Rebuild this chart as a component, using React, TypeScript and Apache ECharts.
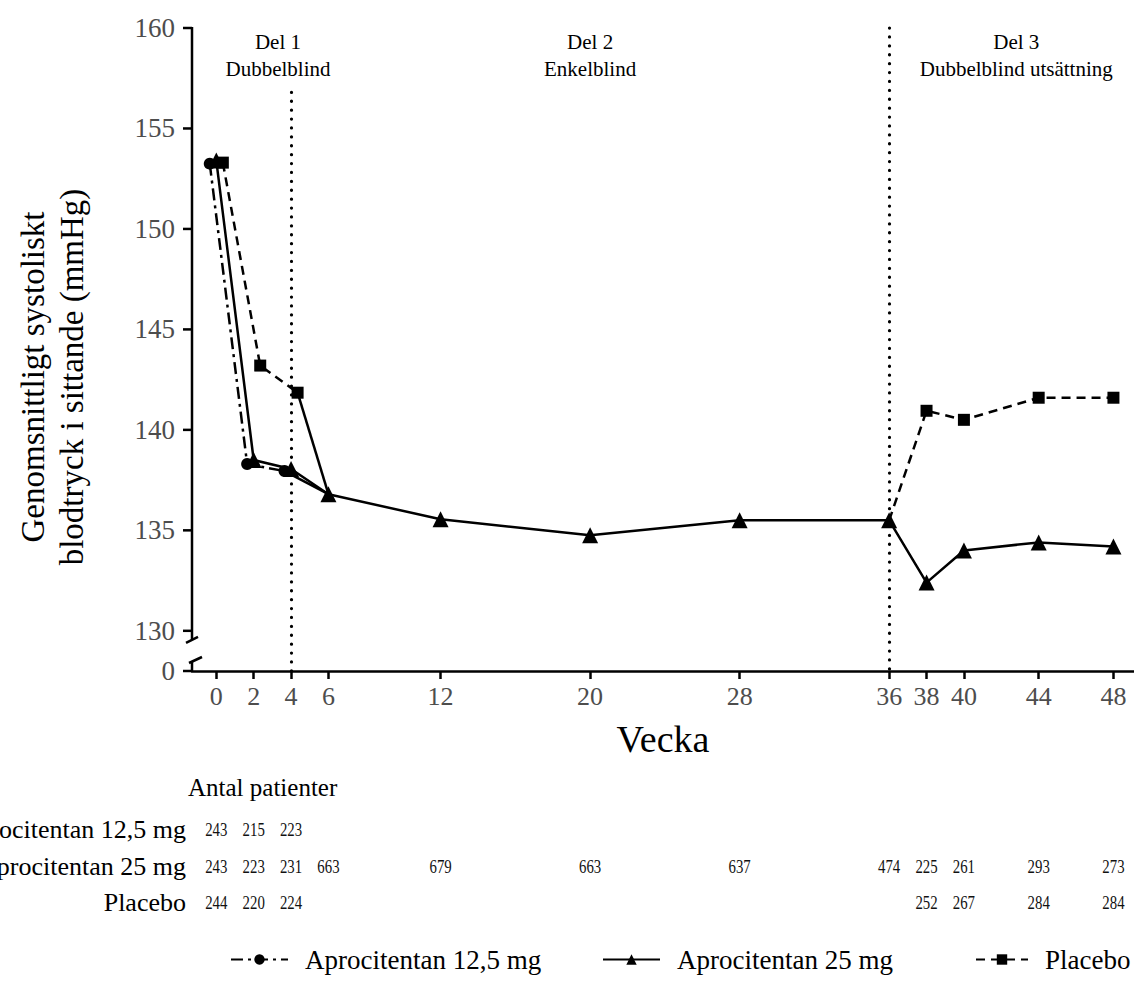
import React, { useEffect, useRef } from "react";
import * as echarts from "echarts";

// ---------- data ----------
const tickWeeks = [0, 2, 4, 6, 12, 20, 28, 36, 38, 40, 44, 48];
const yTickValues = [128, 130, 135, 140, 145, 150, 155, 160]; // 128 = broken-axis "0"
const seriesNames = ["Aprocitentan 12,5 mg", "Aprocitentan 25 mg", "Placebo"];

const weeks125 = [0, 2, 4];
const bp125 = [153.25, 138.3, 137.95];

const weeks25 = [0, 2, 4, 6, 12, 20, 28, 36, 38, 40, 44, 48];
const bp25 = [153.4, 138.5, 138.05, 136.8, 135.55, 134.75, 135.5, 135.5, 132.4, 134.0, 134.4, 134.2];

const weeksPlacebo1 = [0, 2, 4];
const bpPlacebo1 = [153.3, 143.2, 141.85];
const weeksPlacebo3 = [36, 38, 40, 44, 48];
const bpPlacebo3 = [135.5, 140.95, 140.5, 141.6, 141.6];

const partDividers = [4, 36];
const partTitles = ["Del 1\nDubbelblind", "Del 2\nEnkelblind", "Del 3\nDubbelblind utsättning"];

const nWeeks125 = [0, 2, 4];
const n125 = [243, 215, 223];
const nWeeks25 = [0, 2, 4, 6, 12, 20, 28, 36, 38, 40, 44, 48];
const n25 = [243, 223, 231, 663, 679, 663, 637, 474, 225, 261, 293, 273];
const nWeeksPlacebo = [0, 2, 4, 38, 40, 44, 48];
const nPlacebo = [244, 220, 224, 252, 267, 284, 284];

// ---------- style ----------
const FONT = "'Liberation Serif', 'Times New Roman', serif";
const BLACK = "#000";
const GREY = "#4d4d4d";
const DODGE = 0.35;

export default function App() {
  const ref = useRef<HTMLDivElement>(null);

  useEffect(() => {
    if (!ref.current) return;
    const chart = echarts.init(ref.current, undefined, { renderer: "svg" });

    const legendText = { fontFamily: FONT, fontSize: 27, color: BLACK, padding: [0, 0, 0, 12] };
    const legendBase = { top: 941, itemWidth: 57, itemHeight: 13, textStyle: legendText };

    const option: any = {
      animation: false,
      backgroundColor: "#fff",
      grid: { left: 192, right: 0, top: 28, bottom: 310, containLabel: false },
      xAxis: {
        type: "value",
        min: -1.3,
        max: 49.1,
        name: "Vecka",
        nameLocation: "middle",
        nameGap: 49,
        nameTextStyle: { fontFamily: FONT, fontSize: 38, color: BLACK },
        splitLine: { show: false },
        axisLine: { show: true, onZero: false, lineStyle: { color: BLACK, width: 2.5 } },
        axisTick: { show: true, customValues: tickWeeks, length: 8, lineStyle: { color: BLACK, width: 2.5 } },
        axisLabel: {
          customValues: tickWeeks,
          margin: 12,
          fontFamily: FONT,
          fontSize: 26,
          color: GREY,
        },
      },
      yAxis: {
        type: "value",
        min: 128,
        max: 160,
        splitLine: { show: false },
        axisLine: { show: false, onZero: false },
        axisTick: { show: false },
        axisLabel: {
          customValues: yTickValues,
          margin: 17,
          fontFamily: FONT,
          fontSize: 27,
          color: GREY,
          formatter: (v: number) => (v === 128 ? "0" : String(v)),
        },
      },
      legend: [
        { ...legendBase, left: 225, data: [seriesNames[0]] },
        { ...legendBase, left: 597, data: [seriesNames[1]] },
        { ...legendBase, left: 970, itemWidth: 52, data: [seriesNames[2]] },
      ],
      series: [
        {
          name: seriesNames[0],
          type: "line",
          z: 3,
          data: weeks125.map((w, i) => [w - DODGE, bp125[i]]),
          symbol: "circle",
          symbolSize: 12,
          itemStyle: { color: BLACK },
          lineStyle: { color: BLACK, width: 2.5, type: [12, 5, 3, 5] },
        },
        {
          name: "t125",
          type: "line",
          z: 3,
          data: [
            [weeks125[2] - DODGE, bp125[2]],
            [weeks25[3], bp25[3]],
          ],
          symbol: "none",
          lineStyle: { color: BLACK, width: 2.5 },
        },
        {
          name: seriesNames[2],
          type: "line",
          z: 3,
          data: weeksPlacebo1.map((w, i) => [w + DODGE, bpPlacebo1[i]]),
          symbol: "rect",
          symbolSize: 12,
          itemStyle: { color: BLACK },
          lineStyle: { color: BLACK, width: 2.5, type: [9, 6] },
        },
        {
          name: "tPlacebo",
          type: "line",
          z: 3,
          data: [
            [weeksPlacebo1[2] + DODGE, bpPlacebo1[2]],
            [weeks25[3], bp25[3]],
          ],
          symbol: "none",
          lineStyle: { color: BLACK, width: 2.5 },
        },
        {
          name: seriesNames[2],
          type: "line",
          z: 3,
          data: weeksPlacebo3.map((w, i) => ({
            value: [w, bpPlacebo3[i]],
            symbol: i === 0 ? "none" : "rect",
          })),
          symbol: "rect",
          symbolSize: 12,
          itemStyle: { color: BLACK },
          lineStyle: { color: BLACK, width: 2.5, type: [9, 6] },
        },
        {
          name: seriesNames[1],
          type: "line",
          z: 4,
          data: weeks25.map((w, i) => [w, bp25[i]]),
          symbol: "triangle",
          symbolSize: 16,
          itemStyle: { color: BLACK },
          lineStyle: { color: BLACK, width: 2.5 },
          markLine: {
            silent: true,
            symbol: "none",
            label: { show: false },
            z: 1,
            lineStyle: { color: BLACK, width: 3.2, type: [0.1, 8.8], cap: "round" },
            data: [
              [{ coord: [partDividers[0], 156.8] }, { coord: [partDividers[0], 128] }],
              [{ coord: [partDividers[1], 160] }, { coord: [partDividers[1], 128] }],
            ],
          },
        },
      ],
    };

    chart.setOption(option);

    const px = (w: number) => chart.convertToPixel({ xAxisIndex: 0 }, w) as number;
    const py = (v: number) => chart.convertToPixel({ yAxisIndex: 0 }, v) as number;
    const axisX = px(-1.3);
    const y160 = py(160);
    const y130 = py(130);
    const y0 = py(128);

    const graphics: any[] = [];
    const seg = (x1: number, y1: number, x2: number, y2: number) => ({
      type: "line",
      silent: true,
      shape: { x1, y1, x2, y2 },
      style: { stroke: BLACK, lineWidth: 2.5 },
    });
    // broken y axis with its ticks
    graphics.push(seg(axisX, y160 - 1, axisX, y130 + 9));
    graphics.push(seg(axisX, y0 - 9, axisX, y0));
    graphics.push(seg(axisX - 6, y130 + 12, axisX + 6, y130 + 6));
    graphics.push(seg(axisX - 3, y0 - 8, axisX + 10, y0 - 14));
    yTickValues.forEach((v) => {
      const y = py(v);
      graphics.push(seg(axisX - 9, y, axisX, y));
    });

    // part titles
    const titleWeeks = [3.3, 20, 42.8];
    partTitles.forEach((t, i) => {
      graphics.push({
        type: "text",
        silent: true,
        x: px(titleWeeks[i]),
        y: 55,
        style: {
          text: t,
          fontFamily: FONT,
          fontSize: 21,
          lineHeight: 27,
          fill: BLACK,
          align: "center",
          verticalAlign: "middle",
        },
      });
    });

    // y axis title
    graphics.push({
      type: "text",
      silent: true,
      x: 52,
      y: 377,
      rotation: Math.PI / 2,
      style: {
        text: "Genomsnittligt systoliskt\nblodtryck i sittande (mmHg)",
        fontFamily: FONT,
        fontSize: 33,
        lineHeight: 39,
        fill: BLACK,
        align: "center",
        verticalAlign: "middle",
      },
    });

    // patient-number table
    graphics.push({
      type: "text",
      silent: true,
      x: 188,
      y: 787,
      style: { text: "Antal patienter", fontFamily: FONT, fontSize: 25, fill: BLACK, align: "left", verticalAlign: "middle" },
    });
    const rowY = [829, 866, 902];
    const rows = [
      { weeks: nWeeks125, counts: n125 },
      { weeks: nWeeks25, counts: n25 },
      { weeks: nWeeksPlacebo, counts: nPlacebo },
    ];
    rows.forEach((r, i) => {
      graphics.push({
        type: "text",
        silent: true,
        x: 186,
        y: rowY[i],
        style: { text: seriesNames[i], fontFamily: FONT, fontSize: 26, fill: BLACK, align: "right", verticalAlign: "middle" },
      });
      r.weeks.forEach((w, j) => {
        graphics.push({
          type: "text",
          silent: true,
          x: px(w),
          y: rowY[i] + 1,
          scaleX: 0.78,
          style: {
            text: String(r.counts[j]),
            fontFamily: FONT,
            fontSize: 19,
            fill: "#111",
            align: "center",
            verticalAlign: "middle",
          },
        });
      });
    });

    chart.setOption({ graphic: { elements: graphics } });

    return () => chart.dispose();
  }, []);

  return (
    <div
      ref={ref}
      style={{ position: "fixed", left: 0, top: 0, width: 1134, height: 981, background: "#fff" }}
    />
  );
}
